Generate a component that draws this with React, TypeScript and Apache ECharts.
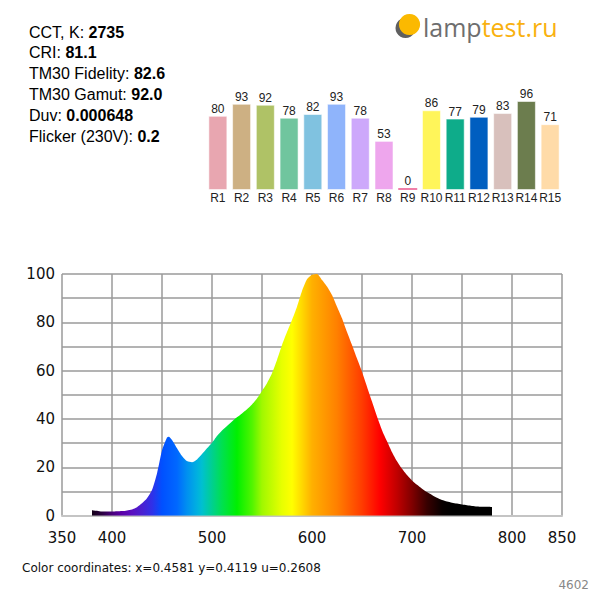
import React, { useEffect, useRef } from "react";
import * as echarts from "echarts";

const categories = ["R1", "R2", "R3", "R4", "R5", "R6", "R7", "R8", "R9", "R10", "R11", "R12", "R13", "R14", "R15"];
const criValues = [80, 93, 92, 78, 82, 93, 78, 53, 0, 86, 77, 79, 83, 96, 71];
const barColors = [
  "#e8a6b0", "#cdb083", "#afc266", "#70c59e", "#80c2e0", "#8fb4fb", "#cda8fb", "#eea6ed",
  "#f07fa8", "#fff55a", "#0eac8a", "#005ec0", "#d8c0bc", "#6c7d4e", "#ffdba8",
];

const wavelengths = [
  380, 385, 390, 395, 400, 405, 410, 415, 420, 425, 430, 435, 440, 445, 450, 455, 457, 460, 465, 470,
  475, 480, 485, 490, 495, 500, 505, 510, 515, 520, 525, 530, 535, 540, 545, 550, 555, 560, 565, 570,
  575, 580, 585, 590, 595, 600, 605, 610, 615, 620, 625, 630, 635, 640, 645, 650, 655, 660, 665, 670,
  675, 680, 685, 690, 695, 700, 705, 710, 715, 720, 725, 730, 735, 740, 745, 750, 755, 760, 765, 770,
  775, 780,
];
const spectrum = [
  2.3, 2.0, 1.7, 1.7, 1.7, 1.8, 1.9, 2.2, 2.6, 3.5, 5.1, 7.2, 10.6, 17.5, 27.0, 32.4, 32.7, 31.3, 27.9, 24.7,
  22.6, 22.1, 23.3, 25.5, 27.9, 30.2, 33.0, 35.3, 37.1, 39.0, 40.7, 42.3, 44.0, 46.0, 48.5, 51.6, 54.8, 58.9, 64.4, 70.6,
  76.0, 81.0, 86.5, 93.0, 97.8, 99.7, 100, 97.5, 94.8, 91.3, 86.5, 81.7, 76.0, 70.6, 65.0, 59.6, 53.4, 47.2, 41.0, 35.4,
  30.8, 26.3, 22.5, 19.4, 16.8, 14.6, 12.8, 11.2, 9.8, 8.6, 7.4, 6.5, 5.9, 5.4, 5.0, 4.6, 4.3, 4.0, 3.8, 3.7,
  3.7, 3.6,
];

const xTickLabels = [350, 400, 500, 600, 700, 800, 850];
const yTickLabels = [0, 20, 40, 60, 80, 100];

const infoLabels = ["CCT, K: ", "CRI: ", "TM30 Fidelity: ", "TM30 Gamut: ", "Duv: ", "Flicker (230V): "];
const infoValues = ["2735", "81.1", "82.6", "92.0", "0.000648", "0.2"];

const colorCoordsText = "Color coordinates: x=0.4581 y=0.4119 u=0.2608";
const idText = "4602";

// wavelength -> colour stops for the spectrum fill
const spectrumColorNm = [380, 390, 400, 410, 420, 430, 440, 450, 465, 475, 485, 490, 500, 510, 525, 540, 550, 570, 580, 590, 600, 625, 650, 668, 685, 700, 715, 730, 740, 780];
const spectrumColorHex = [
  "#140018", "#2a0040", "#48007a", "#5a00a8", "#5a10c0", "#4a20d0", "#3030e8", "#0050ff", "#0068ff", "#0090f0",
  "#00b0e0", "#00c0d0", "#00d090", "#00e050", "#00f000", "#50f500", "#a0f800", "#e8ff00", "#ffff00", "#ffd800",
  "#ffb000", "#ff8000", "#ff3c00", "#ff0000", "#c00000", "#800000", "#380000", "#080000", "#000000", "#000000",
];

export default function App() {
  const ref = useRef<HTMLDivElement>(null);

  useEffect(() => {
    if (!ref.current) return;
    const chart = echarts.init(ref.current, undefined, { renderer: "svg" });

    const wMin = wavelengths[0];
    const wMax = wavelengths[wavelengths.length - 1];
    const stops = spectrumColorNm.map((nm, i) => ({
      offset: (nm - wMin) / (wMax - wMin),
      color: spectrumColorHex[i],
    }));

    const infoFont = "Liberation Sans, Arial, sans-serif";
    const infoYs = [32, 52.6, 73.4, 94.4, 115.3, 136];
    const infoGraphics = infoLabels.map((lab, i) => ({
      type: "text",
      x: 29,
      y: infoYs[i],
      style: {
        text: `{n|${lab}}{b|${infoValues[i]}}`,
        align: "left",
        verticalAlign: "middle",
        rich: {
          n: { fontFamily: infoFont, fontSize: 16, fill: "#000", color: "#000" },
          b: { fontFamily: infoFont, fontSize: 16, fontWeight: "bold", fill: "#000", color: "#000" },
        },
      },
    }));

    const axisFont = "DejaVu Sans, Verdana, sans-serif";

    chart.setOption({
      animation: false,
      backgroundColor: "#ffffff",
      grid: [
        { left: 206, top: 97.3, width: 356, height: 92.7 },
        { left: 62, top: 274, width: 500, height: 241.7 },
      ],
      xAxis: [
        {
          type: "category",
          gridIndex: 0,
          data: categories,
          axisLine: { show: false },
          axisTick: { show: false },
          axisLabel: { interval: 0, fontFamily: infoFont, fontSize: 12, color: "#222", margin: 2 },
        },
        {
          type: "value",
          gridIndex: 1,
          min: 350,
          max: 850,
          interval: 50,
          axisLine: { show: true, lineStyle: { color: "#c4c4c4", width: 2 } },
          axisTick: { show: false },
          splitLine: { show: true, lineStyle: { color: "#9a9a9a", width: 1.5 } },
          axisLabel: {
            fontFamily: axisFont,
            fontSize: 15,
            color: "#111",
            margin: 15,
            formatter: (v: number) => (xTickLabels.includes(v) ? String(v) : ""),
          },
        },
      ],
      yAxis: [
        {
          type: "value",
          gridIndex: 0,
          min: 0,
          max: 100,
          show: false,
        },
        {
          type: "value",
          gridIndex: 1,
          min: 0,
          max: 100,
          interval: 10,
          axisLine: { show: false },
          axisTick: { show: false },
          splitLine: { show: true, lineStyle: { color: "#9a9a9a", width: 1.5 } },
          axisLabel: {
            fontFamily: axisFont,
            fontSize: 15,
            color: "#111",
            margin: 7,
            formatter: (v: number) => (yTickLabels.includes(v) ? String(v) : ""),
          },
        },
      ],
      series: [
        {
          type: "bar",
          xAxisIndex: 0,
          yAxisIndex: 0,
          barWidth: 19,
          barMinHeight: 2,
          data: criValues.map((v, i) => ({
            value: v,
            itemStyle:
              v === 0
                ? { color: barColors[i], borderWidth: 0 }
                : { color: barColors[i], borderColor: "rgba(255,255,255,0.55)", borderWidth: 1 },
          })),
          label: {
            show: true,
            position: "top",
            distance: 1,
            fontFamily: infoFont,
            fontSize: 12,
            color: "#222",
          },
        },
        {
          type: "line",
          xAxisIndex: 1,
          yAxisIndex: 1,
          data: wavelengths.map((w, i) => [w, spectrum[i]]),
          symbol: "none",
          smooth: 0.2,
          lineStyle: { width: 0 },
          areaStyle: {
            opacity: 1,
            color: new echarts.graphic.LinearGradient(0, 0, 1, 0, stops),
          },
          z: 1,
        },
      ],
      graphic: [
        ...infoGraphics,
        { type: "circle", shape: { cx: 405.5, cy: 28, r: 10 }, style: { fill: "#5f5f5f" } },
        { type: "circle", shape: { cx: 409.5, cy: 24.5, r: 10.6 }, style: { fill: "#fbb900" } },
        {
          type: "text",
          x: 423,
          y: 27,
          style: {
            text: "{g|lamp}{o|test.ru}",
            align: "left",
            verticalAlign: "middle",
            rich: {
              g: { fontFamily: "Open Sans", fontSize: 25, fill: "#6e6e6e", color: "#6e6e6e" },
              o: { fontFamily: "Open Sans", fontSize: 25, fill: "#f9b10f", color: "#f9b10f" },
            },
          },
        },
        {
          type: "text",
          x: 22,
          y: 567.5,
          style: {
            text: colorCoordsText,
            fontFamily: axisFont,
            fontSize: 12,
            fill: "#111",
            align: "left",
            verticalAlign: "middle",
          },
        },
        {
          type: "text",
          x: 589,
          y: 585,
          style: {
            text: idText,
            fontFamily: axisFont,
            fontSize: 12,
            fill: "#888",
            align: "right",
            verticalAlign: "middle",
          },
        },
      ],
    });

    return () => chart.dispose();
  }, []);

  return (
    <div
      ref={ref}
      style={{ position: "fixed", left: 0, top: 0, width: 600, height: 600, background: "#fff" }}
    />
  );
}
